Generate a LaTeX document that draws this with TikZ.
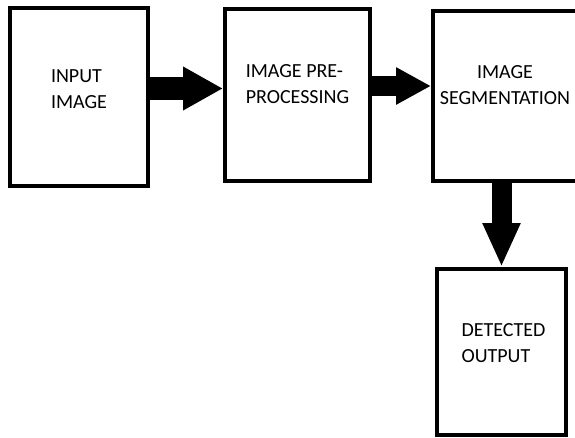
\documentclass[tikz,border=0pt]{standalone}
\usepackage{fontspec}
\setmainfont{Carlito}
\usetikzlibrary{arrows.meta}

\begin{document}
\begin{tikzpicture}[x=1pt, y=-1pt,
    box/.style={rectangle, draw, line width=4pt, inner sep=0pt},
    txt/.style={align=left, inner sep=0pt, font=\fontsize{20}{26}\selectfont},
    bigarrow/.style={line width=#1}]

                \useasboundingbox (0,0) rectangle (575,437);
                \clip (0,0) rectangle (575,437);

                \node[box, minimum width=138pt, minimum height=178pt] (A) at (79,97) {};
                \node[box, minimum width=145pt, minimum height=172pt] (B) at (297.5,95) {};
                \node[box, minimum width=167pt, minimum height=170pt] (C) at (516.5,96) {};
                \node[box, minimum width=129pt, minimum height=166pt] (D) at (501.5,352) {};

                \node[txt] (tA) at ([yshift=8pt]A.center) {INPUT\\IMAGE};
                \node[txt] (tB) at ([yshift=10.5pt]B.center) {IMAGE PRE-\\PROCESSING};
                \node[txt, align=center] (tC) at ([shift={(-11.5pt,11pt)}]C.center) {IMAGE\\SEGMENTATION};
                \node[txt] (tD) at ([shift={(2pt,8.5pt)}]D.center) {DETECTED\\OUTPUT};

                \coordinate (a1) at ([yshift=8.5pt]A.east);
                \coordinate (a2) at ([yshift=9pt]B.east);

                \draw[bigarrow=23pt, -{Triangle[width=41pt,length=40pt]}] (a1) -- (a1 -| B.west);
                \draw[bigarrow=20pt, -{Triangle[width=35pt,length=35pt]}] (a2) -- (a2 -| C.west);
                \draw[bigarrow=20pt, -{Triangle[width=35pt,length=44pt]}] (D.north |- C.south) -- (D.north);

            \end{tikzpicture}
\end{document}
